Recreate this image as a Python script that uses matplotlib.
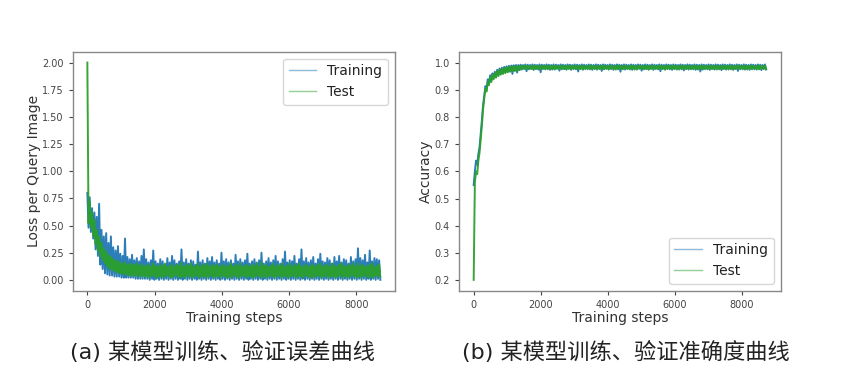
import numpy as np
import matplotlib
matplotlib.use("Agg")
import matplotlib.pyplot as plt

plt.rcParams['font.family'] = ['DejaVu Sans', 'Noto Sans CJK SC']

# --- data, one value every 35 steps ---
# loss in hundredths, accuracy in thousandths
step_size = 35
loss_train_pct = [
    80, 48, 76, 44, 66, 38, 62, 28, 58, 22,
    70, 14, 46, 10, 40, 6, 43, 5, 34, 4,
    40, 4, 30, 3, 27, 3, 31, 3, 24, 2,
    22, 2, 38, 2, 21, 2, 19, 2, 23, 2,
    18, 1, 20, 1, 17, 1, 22, 1, 28, 1,
    19, 1, 16, 0, 18, 1, 27, 0, 17, 1,
    15, 0, 19, 1, 17, 0, 14, 1, 20, 0,
    16, 1, 22, 0, 18, 1, 15, 0, 17, 1,
    28, 0, 16, 1, 19, 0, 15, 1, 18, 0,
    17, 1, 14, 0, 26, 1, 16, 0, 18, 1,
    15, 0, 20, 1, 17, 0, 21, 1, 16, 0,
    18, 1, 15, 0, 25, 1, 17, 0, 19, 1,
    16, 0, 18, 1, 15, 0, 23, 1, 17, 0,
    19, 1, 16, 0, 18, 1, 24, 0, 15, 1,
    17, 0, 19, 1, 16, 0, 18, 1, 25, 0,
    15, 1, 17, 0, 20, 1, 16, 0, 18, 1,
    22, 0, 17, 1, 15, 0, 19, 1, 26, 0,
    16, 1, 18, 0, 17, 1, 22, 0, 15, 1,
    19, 0, 28, 1, 17, 0, 20, 1, 16, 0,
    18, 1, 21, 0, 15, 1, 19, 0, 24, 1,
    17, 0, 16, 1, 20, 0, 18, 1, 15, 0,
    21, 1, 17, 0, 22, 1, 16, 0, 19, 1,
    18, 0, 15, 1, 21, 0, 17, 1, 19, 0,
    29, 1, 20, 0, 18, 1, 23, 0, 16, 1,
    27, 0, 17, 1, 20, 0, 19, 1, 18, 0,
]
loss_test_pct = [
    200, 52, 72, 48, 62, 40, 55, 33, 46, 27,
    40, 22, 34, 18, 29, 15, 26, 12, 23, 10,
    21, 9, 19, 8, 18, 7, 17, 6, 16, 6,
    15, 5, 16, 5, 14, 4, 15, 4, 14, 4,
    14, 4, 15, 3, 13, 4, 14, 3, 13, 3,
    13, 3, 14, 2, 12, 4, 15, 3, 13, 2,
    12, 3, 14, 3, 13, 2, 15, 4, 12, 3,
    13, 2, 14, 3, 12, 4, 14, 3, 13, 2,
    16, 3, 12, 2, 14, 4, 13, 3, 15, 2,
    12, 3, 13, 4, 15, 2, 12, 3, 14, 3,
    13, 2, 15, 3, 12, 4, 14, 2, 13, 3,
    14, 3, 12, 2, 13, 4, 14, 3, 12, 2,
    13, 3, 15, 2, 12, 4, 14, 3, 13, 2,
    15, 3, 12, 4, 13, 2, 14, 3, 12, 3,
    14, 2, 13, 3, 15, 4, 12, 2, 16, 3,
    13, 3, 14, 2, 12, 4, 13, 3, 15, 2,
    12, 3, 14, 4, 13, 2, 15, 3, 12, 3,
    13, 2, 15, 3, 12, 4, 14, 2, 13, 3,
    15, 3, 12, 2, 13, 4, 14, 3, 12, 2,
    13, 3, 14, 2, 12, 4, 14, 3, 15, 2,
    12, 3, 13, 4, 14, 2, 12, 3, 15, 3,
    13, 2, 12, 3, 14, 4, 15, 2, 13, 3,
    12, 3, 14, 2, 13, 4, 15, 3, 12, 2,
    15, 3, 13, 2, 14, 4, 12, 3, 13, 2,
    14, 3, 15, 2, 12, 4, 13, 3, 14, 3,
]
acc_train_pm = [
    550, 600, 640, 625, 665, 690, 740, 790, 845, 880,
    915, 905, 940, 925, 955, 935, 962, 945, 968, 950,
    975, 955, 980, 960, 983, 962, 986, 965, 988, 968,
    990, 970, 991, 960, 992, 972, 993, 965, 993, 974,
    994, 976, 993, 978, 995, 970, 994, 977, 993, 979,
    995, 975, 994, 978, 993, 976, 995, 966, 994, 978,
    993, 977, 995, 979, 994, 975, 993, 978, 995, 976,
    994, 979, 993, 972, 995, 977, 994, 978, 993, 976,
    995, 979, 994, 975, 993, 978, 995, 977, 994, 969,
    993, 978, 995, 976, 994, 979, 993, 977, 995, 978,
    994, 975, 993, 979, 995, 976, 994, 978, 993, 971,
    995, 977, 994, 979, 993, 976, 995, 978, 994, 975,
    993, 979, 995, 977, 994, 968, 993, 978, 995, 976,
    994, 979, 993, 977, 995, 975, 994, 978, 993, 976,
    995, 979, 994, 972, 993, 977, 995, 978, 994, 976,
    993, 979, 995, 975, 994, 978, 993, 977, 995, 970,
    994, 978, 993, 976, 995, 979, 994, 977, 993, 975,
    995, 978, 994, 976, 993, 979, 995, 977, 994, 973,
    993, 978, 995, 976, 994, 979, 993, 977, 995, 975,
    994, 978, 993, 969, 995, 976, 994, 979, 993, 977,
    995, 975, 994, 978, 993, 976, 995, 979, 994, 977,
    993, 974, 995, 978, 994, 976, 993, 979, 995, 977,
    994, 975, 993, 978, 995, 971, 994, 979, 993, 977,
    995, 976, 994, 978, 993, 975, 995, 979, 994, 977,
    993, 976, 995, 978, 994, 974, 993, 979, 995, 977,
]
acc_test_pm = [
    200, 560, 600, 590, 640, 670, 720, 770, 830, 870,
    905, 895, 930, 918, 948, 930, 957, 940, 963, 946,
    970, 952, 975, 957, 979, 960, 982, 963, 984, 966,
    986, 968, 987, 970, 988, 971, 989, 972, 989, 974,
    990, 978, 989, 980, 991, 977, 990, 979, 989, 978,
    991, 976, 990, 979, 989, 978, 991, 977, 990, 980,
    989, 978, 991, 977, 990, 979, 989, 976, 991, 978,
    990, 980, 989, 977, 991, 979, 990, 978, 989, 976,
    991, 979, 990, 977, 989, 980, 991, 978, 990, 977,
    989, 979, 991, 976, 990, 978, 989, 980, 991, 977,
    990, 979, 989, 978, 991, 977, 990, 980, 989, 976,
    991, 978, 990, 979, 989, 977, 991, 980, 990, 978,
    989, 976, 991, 979, 990, 978, 989, 977, 991, 980,
    990, 978, 989, 977, 991, 979, 990, 976, 989, 978,
    991, 980, 990, 977, 989, 979, 991, 978, 990, 976,
    989, 979, 991, 977, 990, 980, 989, 978, 991, 977,
    990, 979, 989, 976, 991, 978, 990, 980, 989, 977,
    991, 979, 990, 978, 989, 976, 991, 980, 990, 977,
    989, 978, 991, 979, 990, 977, 989, 980, 991, 978,
    990, 976, 989, 979, 991, 977, 990, 978, 989, 980,
    991, 977, 990, 979, 989, 978, 991, 976, 990, 979,
    989, 977, 991, 980, 990, 978, 989, 976, 991, 979,
    990, 977, 989, 978, 991, 980, 990, 977, 989, 979,
    991, 978, 990, 976, 989, 979, 991, 977, 990, 980,
    989, 978, 991, 977, 990, 979, 989, 978, 991, 977,
]

loss_train = np.array(loss_train_pct) / 100.0
loss_test = np.array(loss_test_pct) / 100.0
acc_train = np.array(acc_train_pm) / 1000.0
acc_test = np.array(acc_test_pm) / 1000.0
steps = np.arange(len(loss_train)) * step_size

loss_ticks = [0.00, 0.25, 0.50, 0.75, 1.00, 1.25, 1.50, 1.75, 2.00]
acc_ticks = [0.2, 0.3, 0.4, 0.5, 0.6, 0.7, 0.8, 0.9, 1.0]
step_ticks = [0, 2000, 4000, 6000, 8000]
caption_a = "(a) 某模型训练、验证误差曲线"
caption_b = "(b) 某模型训练、验证准确度曲线"

BLUE = '#1f77b4'
GREEN = '#2ca02c'
GREY = '#888888'
LW = 1.4

fig = plt.figure(figsize=(8.41, 3.89), dpi=100)
ax1 = fig.add_axes([0.0864, 0.2527, 0.3832, 0.6144])
ax2 = fig.add_axes([0.5458, 0.2527, 0.3825, 0.6130])


def style(ax):
    for sp in ax.spines.values():
        sp.set_color(GREY)
        sp.set_linewidth(1.0)
    ax.tick_params(labelsize=7, colors='#444444', length=3, width=0.8)
    ax.set_xticks(step_ticks)
    ax.set_xlim(-437, 9150)
    ax.set_xlabel("Training steps", fontsize=10, color='#333333', labelpad=1)


# --- (a) loss ---
ax1.plot(steps, loss_train, color=BLUE, lw=LW, alpha=0.95, label="Training")
ax1.plot(steps, loss_test, color=GREEN, lw=LW, alpha=0.95, label="Test")
ax1.set_yticks(loss_ticks)
ax1.set_ylim(-0.1, 2.1)
ax1.set_ylabel("Loss per Query Image", fontsize=10, color='#333333', labelpad=1)
style(ax1)
leg1 = ax1.legend(loc='upper right', fontsize=10)

# --- (b) accuracy ---
ax2.plot(steps, acc_train, color=BLUE, lw=LW, alpha=0.95, label="Training")
ax2.plot(steps, acc_test, color=GREEN, lw=LW, alpha=0.95, label="Test")
ax2.set_yticks(acc_ticks)
ax2.set_ylim(0.16, 1.04)
ax2.set_ylabel("Accuracy", fontsize=10, color='#333333', labelpad=1)
style(ax2)
leg2 = ax2.legend(loc='lower right', fontsize=10)

for leg in (leg1, leg2):
    for ln in leg.get_lines():
        ln.set_alpha(0.5)
        ln.set_linewidth(1.0)
    for t in leg.get_texts():
        t.set_color('#222222')

fig.text(0.264, 0.095, caption_a, ha='center', va='center', fontsize=16,
         family=['DejaVu Sans', 'Noto Sans CJK SC'], color='#222222')
fig.text(0.744, 0.095, caption_b, ha='center', va='center', fontsize=16,
         family=['DejaVu Sans', 'Noto Sans CJK SC'], color='#222222')

fig.savefig("out.png", dpi=100)
